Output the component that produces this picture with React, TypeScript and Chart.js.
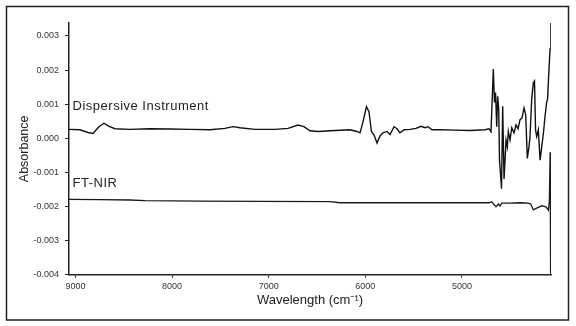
import React, { useEffect, useRef } from "react";
import { Chart, registerables } from "chart.js";

Chart.register(...registerables);

// Dispersive instrument spectrum (wavenumber, absorbance)
const dispersiveWavenumbers = [
  9067, 8953, 8871, 8819, 8757, 8705, 8653, 8591, 8436, 8229, 8022, 7815, 7608, 7453, 7370, 7297, 7142, 6935,
  6800, 6697, 6635, 6573, 6490, 6314, 6159, 6086, 6055, 6024, 5988, 5962, 5936, 5910, 5879, 5848, 5817, 5775,
  5744, 5703, 5672, 5641, 5599, 5537, 5475, 5423, 5382, 5351, 5310, 5227, 5072, 4917, 4762, 4720, 4699, 4675,
  4663, 4652, 4640, 4630, 4619, 4611, 4590, 4578, 4564, 4543, 4530, 4520, 4502, 4484, 4461, 4440, 4419, 4399,
  4378, 4357, 4340, 4323, 4306, 4295, 4278, 4261, 4249, 4238, 4226, 4209, 4191, 4174, 4155, 4140, 4124, 4114,
  4104, 4088, 4079,
];
const dispersiveAbsorbance = [
  0.00026, 0.00025, 0.00017, 0.00014, 0.00034, 0.00044, 0.00035, 0.00028, 0.00026, 0.00028, 0.00027, 0.00026,
  0.00025, 0.00029, 0.00034, 0.00031, 0.00026, 0.00026, 0.00029, 0.00039, 0.00034, 0.00022, 0.0002, 0.00023,
  0.00025, 0.0002, 0.00016, 0.00048, 0.00093, 0.00078, 0.00019, 0.0001, -0.00014, 0.00007, 0.00016, 0.0002,
  0.00011, 0.00034, 0.00028, 0.00016, 0.00025, 0.00026, 0.00029, 0.00035, 0.00031, 0.00034, 0.00025, 0.00025,
  0.00024, 0.00023, 0.00025, 0.00028, 0.00019, 0.00203, 0.00105, 0.00134, 0.00034, 0.00123, 0.00084, -0.00064,
  -0.00148, 0.00094, -0.00119, -0.00005, -0.00025, 0.0002, -0.00005, 0.00031, 0.00016, 0.00039, 0.00028,
  0.00054, 0.0006, 0.00089, 0.00069, -0.00059, -0.00025, 0.00005, 0.00114, 0.00163, 0.00168, 0.00025, 0.00005,
  0.00025, -0.00064, -0.00025, 0.00019, 0.00064, 0.00104, 0.00114, 0.00173, 0.00262, 0.00341,
];

// FT-NIR spectrum (wavenumber, absorbance)
const ftnirWavenumbers = [
  9067, 8746, 8436, 8281, 7711, 7090, 6365, 6262, 5641, 4720, 4692, 4675, 4647, 4623, 4606, 4588, 4502, 4399,
  4313, 4288, 4261, 4226, 4174, 4129, 4105, 4095, 4087, 4084, 4080,
];
const ftnirAbsorbance = [
  -0.00179, -0.0018, -0.00181, -0.00183, -0.00184, -0.00185, -0.00186, -0.00189, -0.00189, -0.00189, -0.00186,
  -0.00192, -0.00201, -0.00192, -0.00199, -0.0019, -0.0019, -0.00189, -0.0019, -0.00193, -0.0021, -0.00205,
  -0.00198, -0.00201, -0.00211, -0.00183, -0.00041, -0.00263, -0.004,
];

const seriesLabels = ["Dispersive Instrument", "FT-NIR"];
const labelAnchorsX = [9030, 9030];
const labelAnchorsY = [0.00093, -0.00133];

const xTickValues = [9000, 8000, 7000, 6000, 5000];
const yTickValues = [0.003, 0.002, 0.001, 0, -0.001, -0.002, -0.003, -0.004];

const yMin = -0.004;
const yMax = 0.00338;
const xMin = 4078;
const xMax = 9067;

const toPoints = (xs: number[], ys: number[]) => xs.map((x, i) => ({ x, y: ys[i] }));

const FONT = "'Liberation Sans', Arial, sans-serif";

const framePlugin = {
  id: "frameAndLabels",
  afterDraw(chart: any) {
    const { ctx, scales } = chart;
    ctx.save();
    ctx.strokeStyle = "#222";
    ctx.lineWidth = 1.5;
    ctx.strokeRect(6.5, 6.5, 562, 313.5);
    ctx.fillStyle = "#222";
    ctx.font = `13px ${FONT}`;
    try {
      (ctx as any).letterSpacing = "0.5px";
    } catch (e) {}
    ctx.textBaseline = "middle";
    ctx.textAlign = "left";
    seriesLabels.forEach((t, i) => {
      const px = scales.x.getPixelForValue(labelAnchorsX[i]);
      const py = scales.y.getPixelForValue(labelAnchorsY[i]);
      ctx.fillText(t, px, py);
    });
    ctx.restore();
  },
};

export default function App() {
  const canvasRef = useRef<HTMLCanvasElement | null>(null);

  useEffect(() => {
    if (!canvasRef.current) return;
    const chart = new Chart(canvasRef.current, {
      type: "line",
      data: {
        datasets: [
          {
            label: seriesLabels[0],
            data: toPoints(dispersiveWavenumbers, dispersiveAbsorbance),
            borderColor: "#111",
            borderWidth: 1.4,
            pointRadius: 0,
            tension: 0,
          },
          {
            label: seriesLabels[1],
            data: toPoints(ftnirWavenumbers, ftnirAbsorbance),
            borderColor: "#1a1a1a",
            borderWidth: 1.3,
            pointRadius: 0,
            tension: 0,
          },
        ],
      },
      options: {
        responsive: false,
        animation: false,
        devicePixelRatio: 1,
        parsing: false as any,
        layout: { padding: { left: 0, right: 25, top: 23, bottom: 18 } },
        plugins: { legend: { display: false }, tooltip: { enabled: false } },
        scales: {
          x: {
            type: "linear",
            reverse: true,
            min: xMin,
            max: xMax,
            afterFit: (s: any) => {
              s.height = 33.3;
            },
            afterBuildTicks: (s: any) => {
              s.ticks = xTickValues.map((value) => ({ value }));
            },
            ticks: {
              color: "#333",
              padding: 3,
              maxRotation: 0,
              autoSkip: false,
              font: { family: FONT, size: 9 },
              callback: (v: any) => String(v),
            },
            grid: { drawOnChartArea: false, drawTicks: true, tickLength: 3, color: "#222", lineWidth: 1 },
            border: { display: true, color: "#222", width: 1.5 },
            title: {
              display: true,
              text: "Wavelength (cm\u207B\u00B9)",
              color: "#222",
              font: { family: FONT, size: 13 },
              padding: { top: 0, bottom: 0 },
            },
          },
          y: {
            type: "linear",
            min: yMin,
            max: yMax,
            afterFit: (s: any) => {
              s.width = 69;
            },
            afterBuildTicks: (s: any) => {
              s.ticks = yTickValues.map((value) => ({ value }));
            },
            ticks: {
              color: "#333",
              padding: 6,
              autoSkip: false,
              font: { family: FONT, size: 9 },
              callback: (v: any) => Number(v).toFixed(3),
            },
            grid: { drawOnChartArea: false, drawTicks: true, tickLength: 4, color: "#222", lineWidth: 1 },
            border: { display: true, color: "#222", width: 1.5 },
            title: {
              display: true,
              text: "Absorbance",
              color: "#222",
              font: { family: FONT, size: 12.5 },
              padding: { top: 17.5, bottom: 0 },
            },
          },
        },
      },
      plugins: [framePlugin],
    });
    return () => chart.destroy();
  }, []);

  return (
    <div style={{ position: "fixed", left: 0, top: 0, width: 576, height: 326, background: "#fff" }}>
      <canvas ref={canvasRef} width={576} height={326} style={{ display: "block" }} />
    </div>
  );
}
